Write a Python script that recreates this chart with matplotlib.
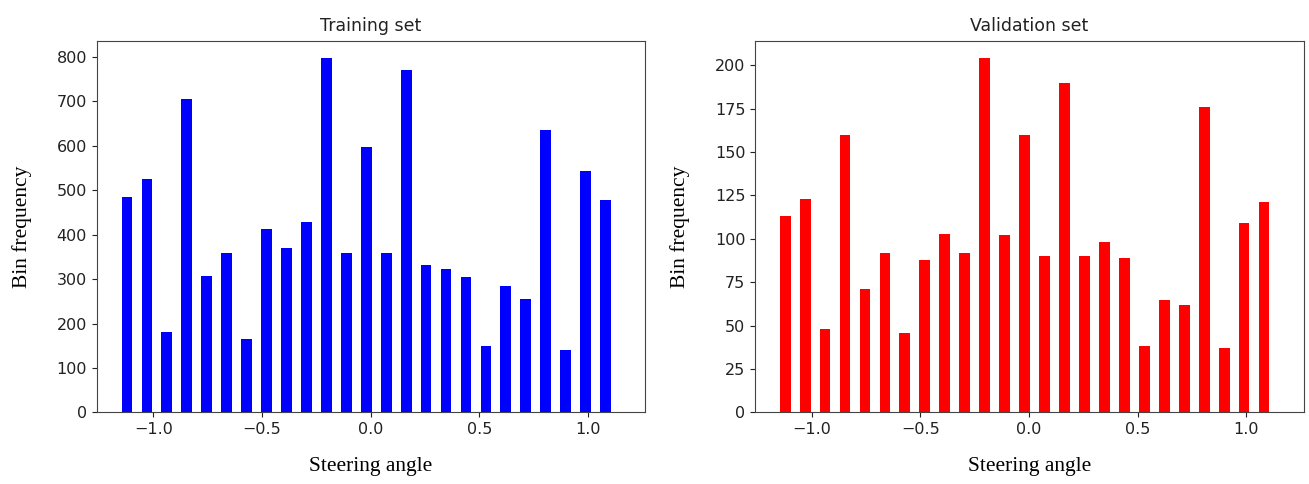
import matplotlib
matplotlib.use("Agg")
import matplotlib.pyplot as plt

# bin centres (steering angle)
bin_centres = [-1.121, -1.029, -0.938, -0.846, -0.754, -0.662, -0.571, -0.479,
               -0.387, -0.295, -0.204, -0.112, -0.020, 0.072, 0.164, 0.255,
               0.347, 0.439, 0.531, 0.622, 0.714, 0.806, 0.898, 0.989, 1.081]

train_counts = [485, 525, 182, 705, 308, 358, 165, 413, 370, 428, 797, 358, 597,
                358, 770, 332, 323, 305, 150, 285, 255, 635, 140, 543, 478]

valid_counts = [113, 123, 48, 160, 71, 92, 46, 88, 103, 92, 204, 102, 160,
                90, 190, 90, 98, 89, 38, 65, 62, 176, 37, 109, 121]

panels = [
    ("Training set", train_counts, "blue", [0.0739, 0.148, 0.4192, 0.768]),
    ("Validation set", valid_counts, "red", [0.5768, 0.148, 0.4194, 0.768]),
]

fig = plt.figure(figsize=(13.09, 4.84), dpi=100)

for title, counts, color, rect in panels:
    ax = fig.add_axes(rect)
    ax.bar(bin_centres, counts, width=0.05, color=color)
    ax.set_xlim(-1.26, 1.265)
    ax.set_xticks([-1.0, -0.5, 0.0, 0.5, 1.0])
    ax.tick_params(labelsize=11.5, colors="#222222")
    for spine in ax.spines.values():
        spine.set_color("#444444")
    ax.set_title(title, fontsize=12.5, color="#222222", pad=7)
    ax.set_xlabel("Steering angle", family="Liberation Serif", fontsize=15.5, labelpad=14)
    ax.set_ylabel("Bin frequency", family="Liberation Serif", fontsize=15.5, labelpad=18)

fig.savefig("out.png", dpi=100)
